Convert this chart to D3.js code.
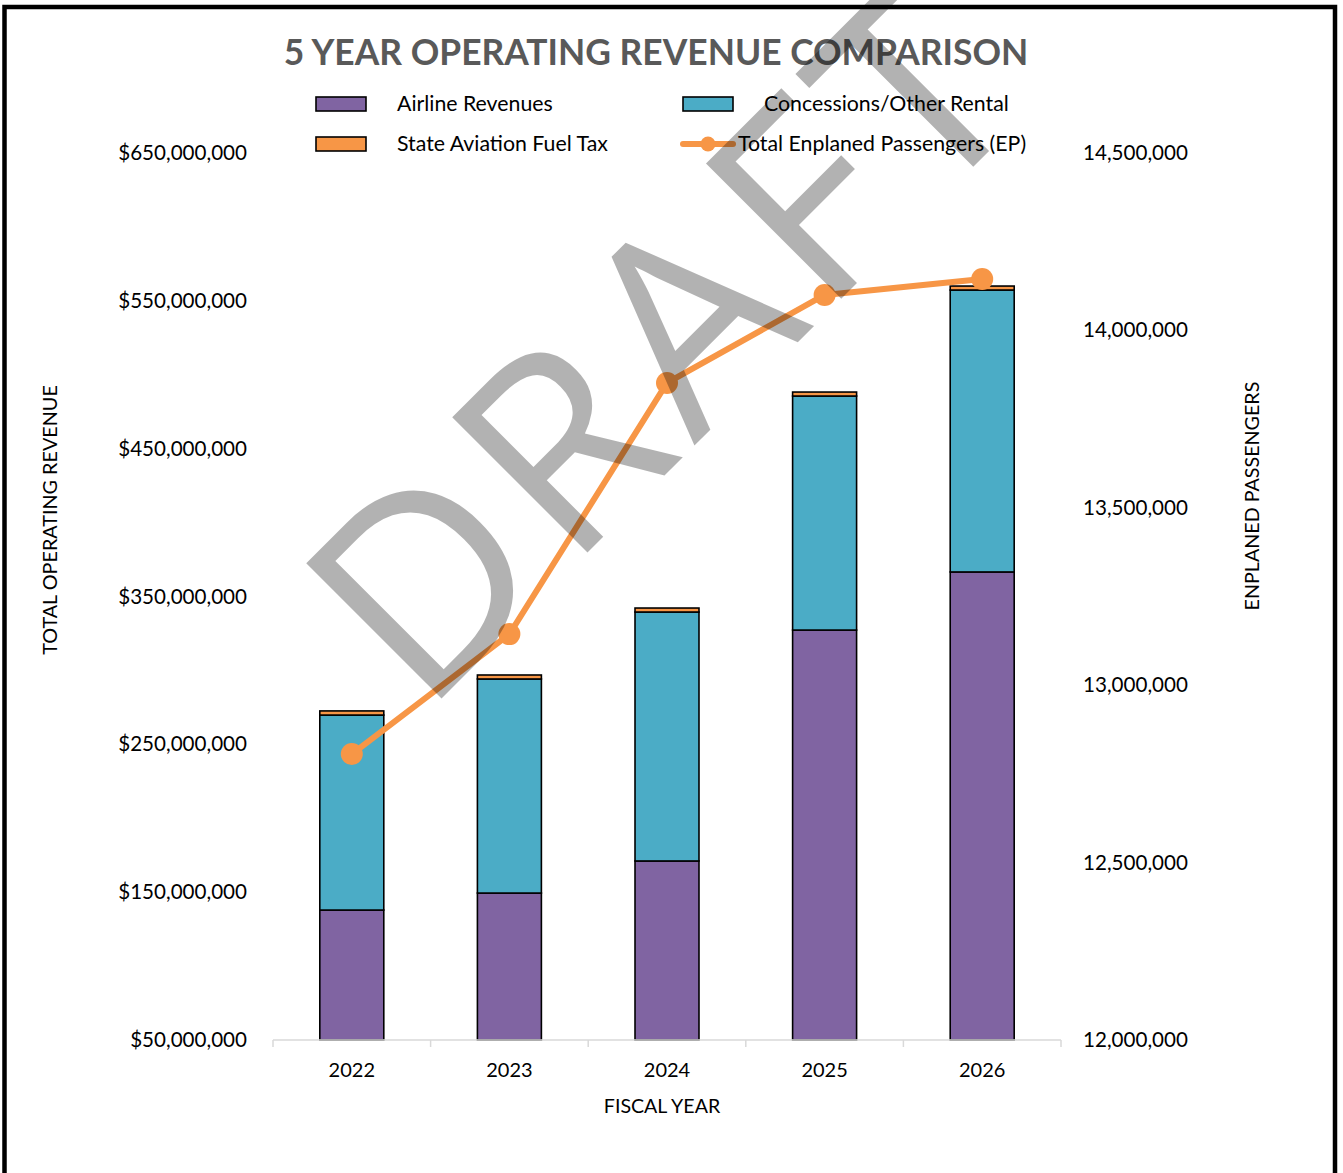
<!DOCTYPE html>
<html>
<head>
<meta charset="utf-8">
<script src="https://cdn.jsdelivr.net/npm/d3@7"></script>
<style>
  html, body { margin: 0; padding: 0; background: #fff; }
  svg { display: block; }
  text { font-family: Lato, "Open Sans", sans-serif; }
</style>
</head>
<body>
<svg id="chart" width="1343" height="1173"></svg>
<script>
// ---- data ----
const years = ["2022", "2023", "2024", "2025", "2026"];
const airlineRevenues = [137.9e6, 149.4e6, 171.1e6, 327.3e6, 366.6e6];
const concessionsOtherRental = [131.9e6, 144.8e6, 168.4e6, 158.3e6, 190.7e6];
const stateAviationFuelTax = [2.8e6, 2.7e6, 2.7e6, 2.7e6, 2.7e6];
const enplanedPassengers = [12806000, 13144000, 13852000, 14100000, 14145000];
const revenueTicks = [50e6, 150e6, 250e6, 350e6, 450e6, 550e6, 650e6];
const passengerTicks = [12000000, 12500000, 13000000, 13500000, 14000000, 14500000];
const seriesNames = ["Airline Revenues", "Concessions/Other Rental", "State Aviation Fuel Tax", "Total Enplaned Passengers (EP)"];
const titleText = "5 YEAR OPERATING REVENUE COMPARISON";
const colors = { airline: "#8064A2", conc: "#4BACC6", fuel: "#F79646", line: "#F79646" };

const svg = d3.select("#chart");

// border
svg.append("rect").attr("x", 4.5).attr("y", 7).attr("width", 1330.5).attr("height", 1200)
  .attr("fill", "none").attr("stroke", "#000").attr("stroke-width", 4.5);

const plotLeft = 273, plotRight = 1061, plotTop = 153, plotBottom = 1040;

const x = d3.scaleBand().domain(years).range([plotLeft, plotRight]).paddingInner(0.594).paddingOuter(0.297);
const yL = d3.scaleLinear().domain([50e6, 650e6]).range([plotBottom, plotTop]);
const yR = d3.scaleLinear().domain([12000000, 14500000]).range([plotBottom, plotTop]);

// stacked data
const table = years.map((yr, i) => ({ year: yr, airline: airlineRevenues[i], conc: concessionsOtherRental[i], fuel: stateAviationFuelTax[i] }));
const stack = d3.stack().keys(["airline", "conc", "fuel"]);
const stacked = stack(table);

// bars
const barG = svg.append("g");
stacked.forEach(layer => {
  barG.selectAll(null).data(layer).enter().append("rect")
    .attr("x", d => x(d.data.year))
    .attr("width", x.bandwidth())
    .attr("y", d => yL(Math.max(d[1], 50e6)))
    .attr("height", d => yL(Math.max(d[0], 50e6)) - yL(Math.max(d[1], 50e6)))
    .attr("fill", colors[layer.key])
    .attr("stroke", "#000").attr("stroke-width", 1.6);
});

// bottom axis
const step = x.step();
const axisG = svg.append("g");
axisG.append("line").attr("x1", plotLeft).attr("x2", plotRight).attr("y1", plotBottom).attr("y2", plotBottom)
  .attr("stroke", "#d9d9d9").attr("stroke-width", 1.5);
d3.range(years.length + 1).forEach(i => {
  const xx = plotLeft + i * step;
  axisG.append("line").attr("x1", xx).attr("x2", xx).attr("y1", plotBottom).attr("y2", plotBottom + 7)
    .attr("stroke", "#d9d9d9").attr("stroke-width", 1.5);
});
const xAxis = d3.axisBottom(x).tickSize(0).tickPadding(0);
const xg = svg.append("g").attr("transform", `translate(0,${plotBottom})`).call(xAxis);
xg.select(".domain").remove();
xg.selectAll("text").attr("dy", null).attr("y", 37).attr("font-size", 20).attr("fill", "#000")
  .style("font-family", "Lato, sans-serif");

// left axis
const fmtMoney = d => "$" + d3.format(",")(d);
const yAxisL = d3.axisLeft(yL).tickValues(revenueTicks).tickFormat(fmtMoney).tickSize(0).tickPadding(0);
const ylg = svg.append("g").attr("transform", `translate(247,0)`).call(yAxisL);
ylg.select(".domain").remove();
ylg.selectAll("text").attr("font-size", 20.6).attr("fill", "#000").attr("x", 0).style("font-family", "Lato, sans-serif");

// right axis
const yAxisR = d3.axisRight(yR).tickValues(passengerTicks).tickFormat(d3.format(",")).tickSize(0).tickPadding(0);
const yrg = svg.append("g").attr("transform", `translate(1083,0)`).call(yAxisR);
yrg.select(".domain").remove();
yrg.selectAll("text").attr("font-size", 20.6).attr("fill", "#000").attr("x", 0).style("font-family", "Lato, sans-serif");

// axis titles
svg.append("text").attr("transform", "translate(57,520) rotate(-90)").attr("text-anchor", "middle")
  .attr("font-size", 19.8).attr("fill", "#000").text("TOTAL OPERATING REVENUE");
svg.append("text").attr("transform", "translate(1259,496) rotate(-90)").attr("text-anchor", "middle")
  .attr("font-size", 19.7).attr("fill", "#000").text("ENPLANED PASSENGERS");
svg.append("text").attr("x", 662).attr("y", 1113).attr("text-anchor", "middle")
  .attr("font-size", 19.6).attr("fill", "#000").text("FISCAL YEAR");

// title
svg.append("text").attr("x", 656).attr("y", 65).attr("text-anchor", "middle")
  .attr("font-size", 35.4).attr("font-weight", "bold").attr("fill", "#595959").text(titleText);

// line
const line = d3.line().x((d, i) => x(years[i]) + x.bandwidth() / 2).y(d => yR(d));
svg.append("path").datum(enplanedPassengers).attr("d", line)
  .attr("fill", "none").attr("stroke", colors.line).attr("stroke-width", 6).attr("stroke-linejoin", "round");
svg.selectAll(".pt").data(enplanedPassengers).enter().append("circle")
  .attr("cx", (d, i) => x(years[i]) + x.bandwidth() / 2).attr("cy", d => yR(d)).attr("r", 11)
  .attr("fill", colors.line);

// legend
const legend = svg.append("g");
const legItems = [
  { name: seriesNames[0], color: colors.airline, type: "rect", sx: 316, tx: 397, cy: 104 },
  { name: seriesNames[1], color: colors.conc, type: "rect", sx: 683, tx: 764, cy: 104 },
  { name: seriesNames[2], color: colors.fuel, type: "rect", sx: 316, tx: 397, cy: 144 },
  { name: seriesNames[3], color: colors.line, type: "line", sx: 683, tx: 738, cy: 144 }
];
legItems.forEach(it => {
  if (it.type === "rect") {
    legend.append("rect").attr("x", it.sx).attr("y", it.cy - 7).attr("width", 50).attr("height", 14)
      .attr("fill", it.color).attr("stroke", "#000").attr("stroke-width", 1.6);
  } else {
    legend.append("line").attr("x1", it.sx).attr("x2", it.sx + 50).attr("y1", it.cy).attr("y2", it.cy)
      .attr("stroke", it.color).attr("stroke-width", 6).attr("stroke-linecap", "round");
    legend.append("circle").attr("cx", it.sx + 25).attr("cy", it.cy).attr("r", 7.5).attr("fill", it.color);
  }
  legend.append("text").attr("x", it.tx).attr("y", it.cy).attr("dy", "0.35em")
    .attr("font-size", 21.3).attr("fill", "#000").text(it.name);
});

// watermark
svg.append("text").attr("transform", "translate(423,717) rotate(-45)")
  .attr("font-size", 268).attr("letter-spacing", 12).attr("fill", "#000").attr("fill-opacity", 0.3)
  .style("font-family", "'Open Sans', sans-serif").text("DRAFT");
</script>
</body>
</html>
